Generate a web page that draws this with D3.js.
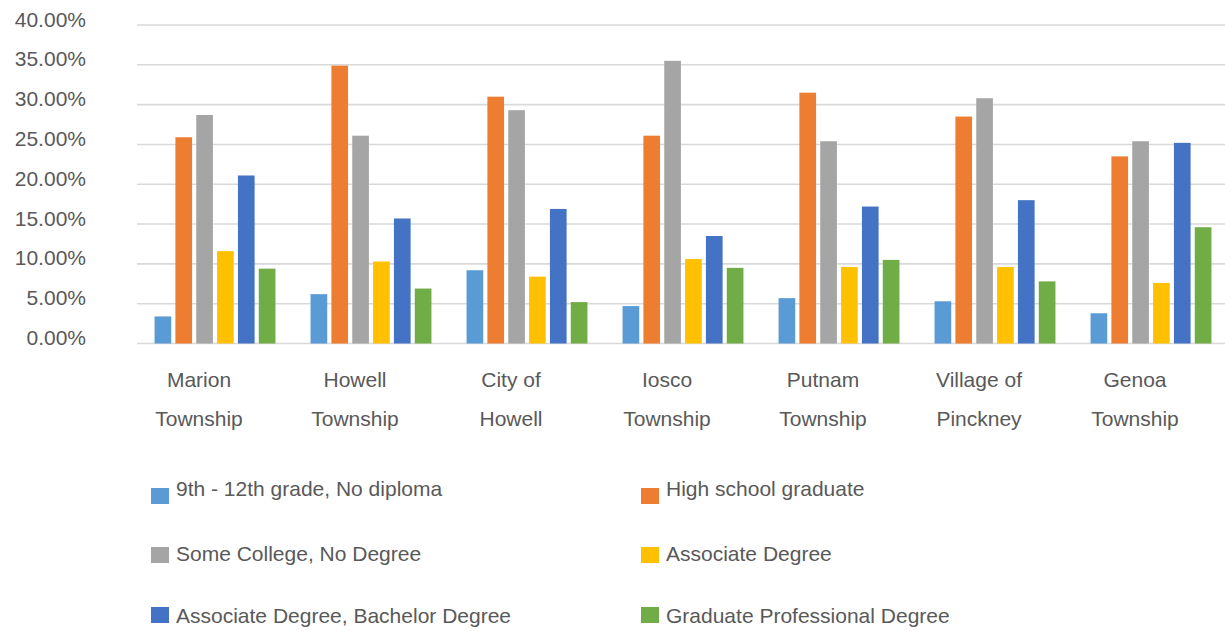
<!DOCTYPE html>
<html>
<head>
<meta charset="utf-8">
<script src="https://cdn.jsdelivr.net/npm/d3@7"></script>
<style>
  html, body { margin: 0; padding: 0; background: #ffffff; }
  svg text { font-family: "Liberation Sans", Arial, sans-serif; fill: #595959; }
</style>
</head>
<body>
<svg id="chart" width="1225" height="631"></svg>
<script>
// Educational attainment by community (share of population, %)
const categories = [
  ["Marion", "Township"],
  ["Howell", "Township"],
  ["City of", "Howell"],
  ["Iosco", "Township"],
  ["Putnam", "Township"],
  ["Village of", "Pinckney"],
  ["Genoa", "Township"]
];
const seriesNames = [
  "9th - 12th grade, No diploma",
  "High school graduate",
  "Some College, No Degree",
  "Associate Degree",
  "Associate Degree, Bachelor Degree",
  "Graduate Professional Degree"
];
const seriesColors = ["#5B9BD5", "#ED7D31", "#A5A5A5", "#FFC000", "#4472C4", "#70AD47"];

const noDiploma      = [3.4, 6.2, 9.2, 4.7, 5.7, 5.3, 3.8];
const highSchool     = [25.9, 34.9, 31.0, 26.1, 31.5, 28.5, 23.5];
const someCollege    = [28.7, 26.1, 29.3, 35.5, 25.4, 30.8, 25.4];
const associate      = [11.6, 10.3, 8.4, 10.6, 9.6, 9.6, 7.6];
const bachelor       = [21.1, 15.7, 16.9, 13.5, 17.2, 18.0, 25.2];
const graduate       = [9.4, 6.9, 5.2, 9.5, 10.5, 7.8, 14.6];

const yTicks = [0, 5, 10, 15, 20, 25, 30, 35, 40];

const seriesValues = [noDiploma, highSchool, someCollege, associate, bachelor, graduate];

const svg = d3.select("#chart");

const x0 = d3.scaleBand()
  .domain(d3.range(categories.length))
  .range([137, 1229])
  .paddingInner(0.225)
  .paddingOuter(0.1125);

const x1 = d3.scaleBand()
  .domain(d3.range(seriesNames.length))
  .range([0, x0.bandwidth()])
  .paddingInner(0.2)
  .paddingOuter(0);

const y = d3.scaleLinear().domain([0, 40]).range([343.5, 25]);

// horizontal gridlines
svg.append("g")
  .selectAll("line")
  .data(yTicks)
  .join("line")
  .attr("x1", 137)
  .attr("x2", 1225)
  .attr("y1", d => y(d))
  .attr("y2", d => y(d))
  .attr("stroke", "#d9d9d9")
  .attr("stroke-width", 1.6);

// y axis labels
const yAxis = d3.axisLeft(y).tickValues(yTicks).tickSize(0).tickFormat(d => d3.format(".2f")(d) + "%");
const yg = svg.append("g").attr("transform", "translate(86,0)").call(yAxis);
yg.select(".domain").remove();
yg.selectAll("text")
  .attr("x", 0)
  .attr("dy", null)
  .attr("dominant-baseline", "alphabetic")
  .attr("transform", "translate(0,1)")
  .style("font-size", "21px")
  .style("font-family", "'Liberation Sans', Arial, sans-serif")
  .attr("fill", "#595959");

// bars
const groups = svg.append("g")
  .selectAll("g")
  .data(categories.map((c, i) => i))
  .join("g")
  .attr("transform", i => `translate(${x0(i)},0)`);

groups.selectAll("rect")
  .data(i => seriesValues.map((vals, s) => ({ s, v: vals[i] })))
  .join("rect")
  .attr("x", d => x1(d.s))
  .attr("width", x1.bandwidth())
  .attr("y", d => y(d.v))
  .attr("height", d => y(0) - y(d.v))
  .attr("fill", d => seriesColors[d.s]);

// category labels (two lines each)
const catLabels = svg.append("g")
  .selectAll("text")
  .data(categories)
  .join("text")
  .attr("text-anchor", "middle")
  .style("font-size", "21px")
  .attr("transform", (d, i) => `translate(${x0(i) + x0.bandwidth() / 2 - 16},0)`);
catLabels.selectAll("tspan")
  .data(d => d)
  .join("tspan")
  .attr("x", 0)
  .attr("y", (d, j) => 387 + j * 39)
  .text(d => d);

// legend: two columns, three rows
const legendCols = [151, 641];
const legendMarkerY = [488, 547, 607];
const legendTextY = [496, 561, 623];
const legend = svg.append("g")
  .selectAll("g")
  .data(seriesNames)
  .join("g")
  .attr("transform", (d, i) => `translate(${legendCols[i % 2]},0)`);
legend.append("rect")
  .attr("y", (d, i) => legendMarkerY[Math.floor(i / 2)])
  .attr("width", 18)
  .attr("height", 16)
  .attr("fill", (d, i) => seriesColors[i]);
legend.append("text")
  .attr("x", 25)
  .attr("y", (d, i) => legendTextY[Math.floor(i / 2)])
  .style("font-size", "21px")
  .text(d => d);
</script>
</body>
</html>
